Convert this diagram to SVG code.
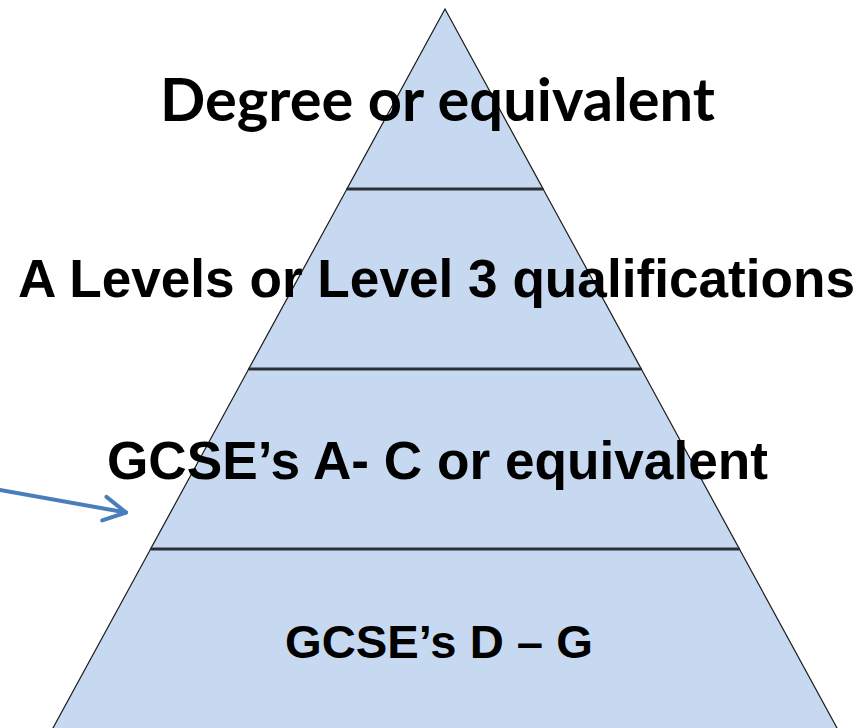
<svg xmlns="http://www.w3.org/2000/svg" width="863" height="728" viewBox="0 0 863 728">
  <defs>
    <style>
      .tier { fill: #C6D9F1; stroke: #1a1a1a; stroke-width: 1.2; stroke-linejoin: miter; }
      .divider { stroke: #2b2f36; stroke-width: 2.8; }
      .lbl { font-family: "Liberation Sans", Arial, sans-serif; font-weight: bold; fill: #000; text-anchor: middle; }
      .lbl-c { font-family: Lato, "Open Sans", "Liberation Sans", sans-serif; font-weight: bold; fill: #000; text-anchor: middle; }
      .conn { stroke: #4A7EBB; stroke-width: 4; fill: none; stroke-linecap: round; }
    </style>
    <marker id="openArrow" markerUnits="userSpaceOnUse" markerWidth="34" markerHeight="34" viewBox="-28 -17 34 34" refX="0" refY="0" orient="auto">
      <path d="M-22,-12 L0,0 L-22,12" fill="none" stroke="#4A7EBB" stroke-width="4" stroke-linecap="round" stroke-linejoin="round"/>
    </marker>
  </defs>
  <rect width="863" height="728" fill="#ffffff"/>

  <g id="tier-degree">
    <polygon class="tier" points="445,9 543.1,189 346.9,189"/>
  </g>
  <g id="tier-alevels">
    <polygon class="tier" points="346.9,189 543.1,189 641.3,369 248.7,369"/>
  </g>
  <g id="tier-gcse-ac">
    <polygon class="tier" points="248.7,369 641.3,369 739.4,549 150.6,549"/>
  </g>
  <g id="tier-gcse-dg">
    <polygon class="tier" points="150.6,549 739.4,549 839.2,732 50.8,732"/>
  </g>

  <g id="dividers">
    <line class="divider" x1="346.9" y1="189" x2="543.1" y2="189"/>
    <line class="divider" x1="248.7" y1="369" x2="641.3" y2="369"/>
    <line class="divider" x1="150.6" y1="549" x2="739.4" y2="549"/>
  </g>

  <g id="labels">
    <text class="lbl-c" x="437.5" y="121" font-size="59" textLength="555" lengthAdjust="spacingAndGlyphs">Degree or equivalent</text>
    <text class="lbl" x="436.5" y="297" font-size="53" textLength="837" lengthAdjust="spacingAndGlyphs">A Levels or Level 3 qualifications</text>
    <text class="lbl" x="437.5" y="479" font-size="53" textLength="661" lengthAdjust="spacingAndGlyphs">GCSE’s A- C or equivalent</text>
    <text class="lbl" x="439" y="658" font-size="47" textLength="308" lengthAdjust="spacingAndGlyphs">GCSE’s D – G</text>
  </g>

  <g id="connectors">
    <line class="conn" x1="0" y1="490" x2="126" y2="512.5" marker-end="url(#openArrow)"/>
  </g>
</svg>
